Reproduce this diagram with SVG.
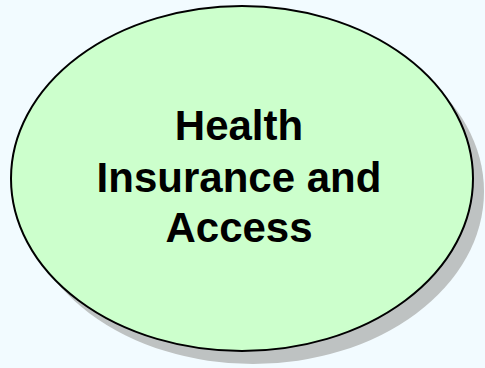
<svg xmlns="http://www.w3.org/2000/svg" width="485" height="368" viewBox="0 0 485 368">
<style>
.bg{fill:#F2FBFF}
.shadow{fill:#BEC2C2}
.node{fill:#CCFFCC;stroke:#000;stroke-width:2}
.label{font-family:"Liberation Sans",Arial,sans-serif;font-weight:bold;font-size:42px;fill:#000;text-anchor:middle}
</style>
<rect class="bg" x="0" y="0" width="485" height="368"/>
<g id="node-health">
<ellipse class="shadow" cx="253" cy="191.5" rx="231" ry="172.5"/>
<ellipse class="node" cx="242" cy="178.5" rx="231" ry="172.5"/>
<text class="label" x="239" y="140">Health</text>
<text class="label" x="239" y="192">Insurance and</text>
<text class="label" x="239" y="242">Access</text>
</g>
<g id="connectors"/>
</svg>
